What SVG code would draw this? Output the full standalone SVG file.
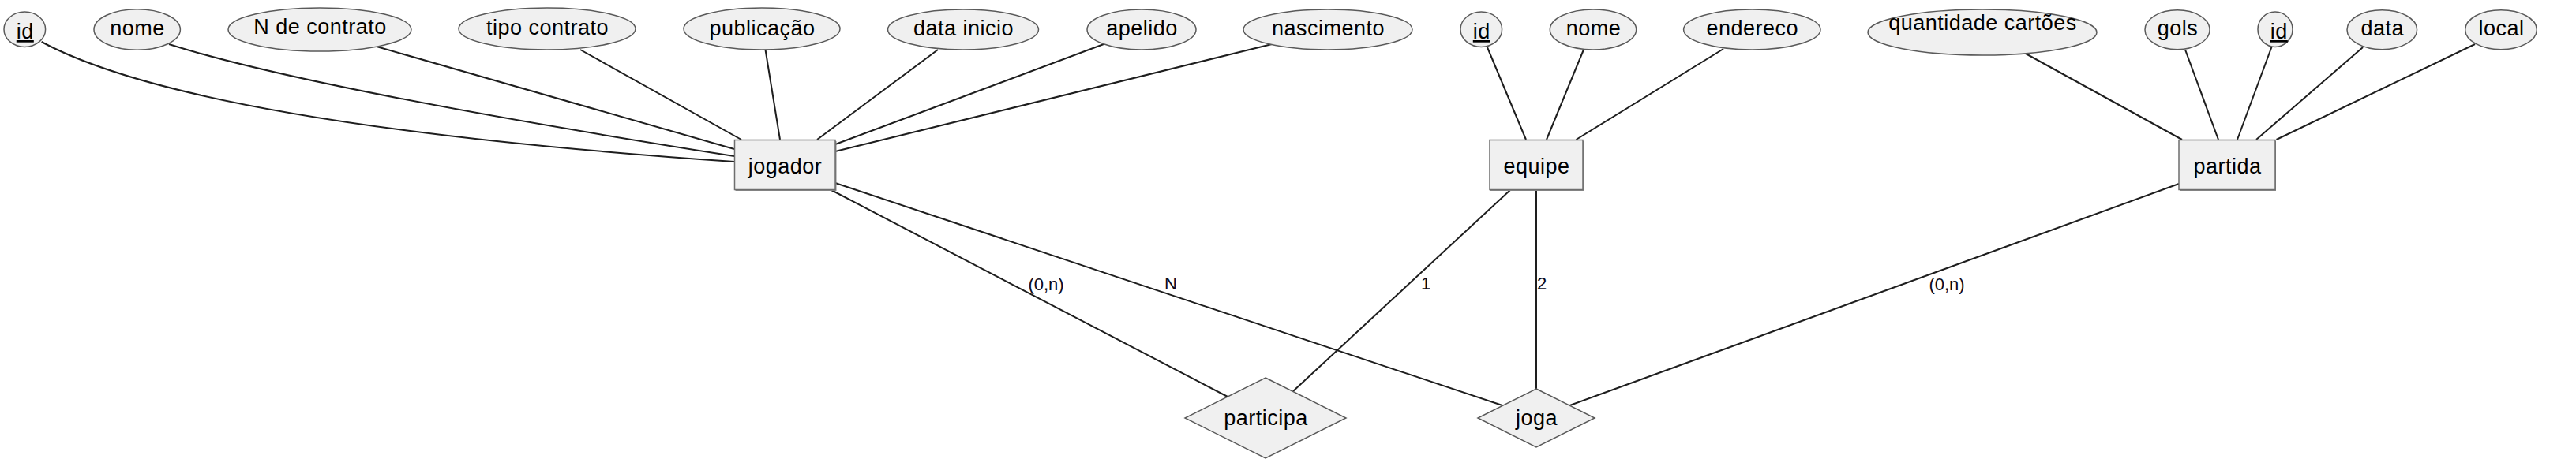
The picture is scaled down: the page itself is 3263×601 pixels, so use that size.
<svg xmlns="http://www.w3.org/2000/svg" width="3263" height="601" viewBox="0 0 3263 601">
<style>
.bg{fill:#ffffff}
.attr{fill:#f0f0f0;stroke:#5a5a5a;stroke-width:1.5}
.ent{fill:#f0f0f0;stroke:#6e6e6e;stroke-width:1.5}
.shadow{fill:#8a8a8a}
.rel{fill:#f0f0f0;stroke:#5a5a5a;stroke-width:1.5}
.t{font-family:"Liberation Sans",Arial,sans-serif;font-size:27px;fill:#000;text-anchor:middle;letter-spacing:0.5px}
.u{text-decoration:underline}
.c{fill:none;stroke:#1e1e1e;stroke-width:2}
.lbl{font-family:"Liberation Sans",Arial,sans-serif;font-size:22px;fill:#0a0a1a;text-anchor:middle}
</style>
<rect class="bg" x="0" y="0" width="3263" height="601"/>
<g id="connectors">
<path class="c" d="M52.6,53 Q247,158 930,205"/>
<path class="c" d="M214,56 Q392,113 930,198"/>
<path class="c" d="M477,59 L930,189"/>
<path class="c" d="M735,63 L939,177"/>
<path class="c" d="M969.5,63 L988,177"/>
<path class="c" d="M1188,63 L1035,177"/>
<path class="c" d="M1398,56 L1058,183"/>
<path class="c" d="M1611,56 L1058,192"/>
<path class="c" d="M1884,60 L1933,177"/>
<path class="c" d="M2006,63 L1959,177"/>
<path class="c" d="M2183,62 L1996.5,177"/>
<path class="c" d="M2566,68 L2764,177"/>
<path class="c" d="M2768,63 L2810,177"/>
<path class="c" d="M2877.7,59 L2834,177"/>
<path class="c" d="M2993,60 L2858,177"/>
<path class="c" d="M3135,56 L2883.5,177"/>
<path class="c" d="M1053,241 L1555,503"/>
<path class="c" d="M1058,232 L1903,514"/>
<path class="c" d="M1913,241 L1638,496"/>
<path class="c" d="M1946,241 L1946,493"/>
<path class="c" d="M1988.5,514 L2760,233"/>
<text class="lbl" x="1325" y="368">(0,n)</text>
<text class="lbl" x="1483" y="367">N</text>
<text class="lbl" x="1806" y="367">1</text>
<text class="lbl" x="1953" y="367">2</text>
<text class="lbl" x="2466" y="368">(0,n)</text>
</g>
<g id="jogador_id"><ellipse class="attr" cx="31.3" cy="37.2" rx="26.3" ry="22.2"/><text class="t u" x="31.8" y="49">id</text></g>
<g id="jogador_nome"><ellipse class="attr" cx="173.7" cy="37.5" rx="54.7" ry="25.8"/><text class="t" x="174" y="45">nome</text></g>
<g id="jogador_ncontrato"><ellipse class="attr" cx="405" cy="37.5" rx="116" ry="27.5"/><text class="t" x="405.5" y="43">N de contrato</text></g>
<g id="jogador_tipocontrato"><ellipse class="attr" cx="693" cy="36.5" rx="112" ry="26.5"/><text class="t" x="693.5" y="44">tipo contrato</text></g>
<g id="jogador_publicacao"><ellipse class="attr" cx="965" cy="36.5" rx="99" ry="26.5"/><text class="t" x="965.5" y="45">publicação</text></g>
<g id="jogador_datainicio"><ellipse class="attr" cx="1220" cy="37.5" rx="95.5" ry="25.5"/><text class="t" x="1220.5" y="44.5">data inicio</text></g>
<g id="jogador_apelido"><ellipse class="attr" cx="1446" cy="37.5" rx="69" ry="25.5"/><text class="t" x="1446.5" y="44.5">apelido</text></g>
<g id="jogador_nascimento"><ellipse class="attr" cx="1682" cy="37.5" rx="107" ry="25.5"/><text class="t" x="1682.5" y="44.5">nascimento</text></g>
<g id="equipe_id"><ellipse class="attr" cx="1876.3" cy="37.2" rx="26.3" ry="22.2"/><text class="t u" x="1876.8" y="49">id</text></g>
<g id="equipe_nome"><ellipse class="attr" cx="2018" cy="37.5" rx="54.7" ry="25.5"/><text class="t" x="2018.5" y="45">nome</text></g>
<g id="equipe_endereco"><ellipse class="attr" cx="2219.3" cy="37.5" rx="86.7" ry="25.5"/><text class="t" x="2219.8" y="45">endereco</text></g>
<g id="partida_quantidade"><ellipse class="attr" cx="2511" cy="41" rx="145" ry="29"/><text class="t" x="2511.5" y="37.5">quantidade cartões</text></g>
<g id="partida_gols"><ellipse class="attr" cx="2758" cy="37.7" rx="41" ry="25"/><text class="t" x="2758.5" y="45">gols</text></g>
<g id="partida_id"><ellipse class="attr" cx="2882" cy="37.2" rx="22" ry="22.2"/><text class="t u" x="2886.8" y="49">id</text></g>
<g id="partida_data"><ellipse class="attr" cx="3017.3" cy="37.7" rx="44.3" ry="25"/><text class="t" x="3017.8" y="45">data</text></g>
<g id="partida_local"><ellipse class="attr" cx="3168" cy="37.7" rx="45.3" ry="25"/><text class="t" x="3168.5" y="45">local</text></g>
<g id="jogador"><rect class="shadow" x="931.5" y="179" width="128" height="63"/><rect class="ent" x="930.5" y="177.5" width="127.5" height="63"/><text class="t" x="994.5" y="219.5">jogador</text></g>
<g id="equipe"><rect class="shadow" x="1888" y="179" width="118" height="63"/><rect class="ent" x="1887" y="177.5" width="118" height="63"/><text class="t" x="1946.5" y="219.5">equipe</text></g>
<g id="partida"><rect class="shadow" x="2761" y="179" width="122" height="63"/><rect class="ent" x="2760" y="177.5" width="122" height="63"/><text class="t" x="2821.5" y="219.5">partida</text></g>
<g id="participa"><polygon class="rel" points="1603,479 1705,530 1603,581 1501,530"/><text class="t" x="1603.5" y="539">participa</text></g>
<g id="joga"><polygon class="rel" points="1946,493 2020,530 1946,567 1872,530"/><text class="t" x="1946.5" y="539">joga</text></g>
</svg>
